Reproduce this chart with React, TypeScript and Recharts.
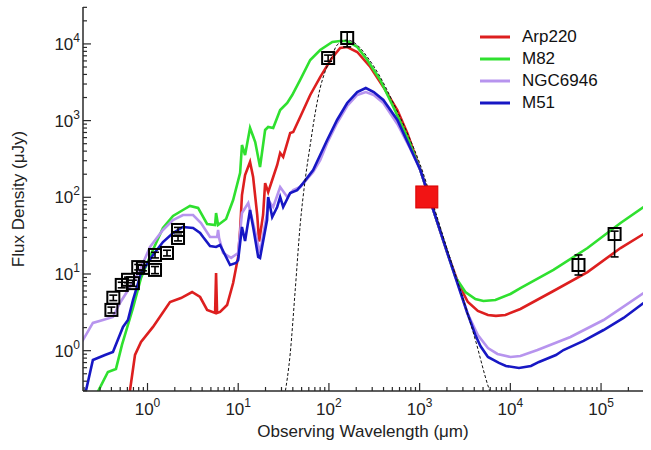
import React from 'react';
import { ComposedChart, Line, Scatter, ErrorBar, XAxis, YAxis, Legend } from 'recharts';

type Pt = [number, number];

const FONT = '"Liberation Sans", Arial, Helvetica, sans-serif';

// wavelength (um), flux density (uJy)
const arp220: Pt[] = [
  [0.62, 0.23], [0.728, 0.879], [0.848, 1.3], [1.15, 2.04], [1.77, 4.31], [2.34, 4.86], [3.1, 5.82],
  [3.8, 5.01], [4.54, 3.4], [5.56, 3.1], [5.7, 10.3], [5.85, 3.1], [6.31, 3.2], [7.54, 3.94], [8.79, 7.63],
  [9.98, 16.7], [10.5, 37.5], [11.0, 107], [11.9, 195], [13.5, 289], [14.6, 184], [16.2, 58.8], [17.0, 26.5],
  [18.8, 58.8], [19.8, 153], [21.4, 117], [23.7, 168], [26.9, 264], [29.0, 378], [31.3, 336], [37.4, 690],
  [40.4, 711], [48.2, 1114], [62.2, 2158], [80.1, 3700], [106, 6350], [133, 8850], [159, 9120], [205, 7850],
  [286, 5010], [398, 2750], [568, 1376], [731, 690], [1018, 227], [1416, 68.3], [2023, 18.8], [2710, 7.19],
  [3404, 4.31], [4385, 3.3], [5662, 2.92], [6934, 2.84], [8830, 2.92], [12910, 3.5], [29870, 6.0],
  [70900, 10.6], [164000, 21.8], [294000, 33.2],
];

const m82: Pt[] = [
  [0.27, 0.26], [0.366, 0.527], [0.449, 0.578], [0.523, 1.19], [0.692, 3.6], [0.848, 8.87], [1.12, 19.4],
  [1.48, 39.8], [1.91, 57.1], [2.46, 68.3], [2.94, 77.1], [3.61, 72.6], [4.54, 44.9], [5.56, 43.6],
  [5.7, 62.4], [6.0, 43.6], [7.35, 52.1], [8.79, 92.2], [10.5, 208], [11.0, 481], [11.9, 356], [13.5, 802],
  [15.4, 526], [17.4, 248], [19.8, 755], [21.4, 826], [24.3, 802], [29.0, 1376], [34.7, 1698], [39.4, 2158],
  [48.2, 3388], [62.2, 6170], [80.1, 8330], [109, 10590], [133, 10910], [159, 10910], [205, 9120],
  [265, 6170], [368, 3388], [513, 1504], [731, 611], [1018, 227], [1416, 68.3], [2023, 18.8], [2477, 9.14],
  [3192, 5.82], [4117, 4.72], [5047, 4.45], [6842, 4.58], [10020, 5.49], [12910, 6.56], [29870, 11.3],
  [70900, 21.8], [164000, 46.2], [294000, 74.8],
];

const ngc6946: Pt[] = [
  [0.189, 1.3], [0.25, 2.3], [0.323, 2.51], [0.416, 2.75], [0.497, 4.19], [0.641, 6.77], [0.826, 11.3],
  [1.066, 22.5], [1.48, 37.5], [1.91, 50.6], [2.46, 58.8], [3.18, 58.8], [3.89, 46.2], [4.89, 30.3],
  [5.85, 30.3], [6.0, 37.5], [6.15, 29.5], [6.81, 18.8], [8.35, 16.2], [9.98, 18.8], [11.0, 62.4],
  [12.9, 84.3], [14.6, 46.2], [17.4, 18.8], [20.8, 62.4], [21.4, 92.2], [24.3, 74.8], [29.0, 136],
  [34.7, 101], [40.4, 124], [48.2, 136], [67.0, 214], [80.1, 306], [95.7, 510], [123, 931], [159, 1552],
  [205, 2158], [255, 2360], [312, 2158], [398, 1698], [568, 904], [780, 440], [1018, 227], [1416, 68.3],
  [2023, 18.8], [3357, 3.1], [4385, 1.6], [5662, 1.08], [7210, 0.906], [10020, 0.828], [12910, 0.853],
  [19910, 1.02], [45960, 1.51], [106600, 2.51], [294000, 5.65],
];

const m51: Pt[] = [
  [0.199, 0.228], [0.25, 0.757], [0.34, 0.879], [0.416, 0.962], [0.537, 2.04], [0.609, 2.51], [0.692, 4.58],
  [0.848, 10.3], [1.15, 17.7], [1.48, 26.1], [1.91, 34.3], [2.46, 41.0], [3.18, 39.8], [3.8, 34.3],
  [4.1, 30.3], [4.89, 23.2], [5.7, 22.5], [6.31, 23.9], [8.13, 13.1], [9.46, 13.9], [9.98, 15.2],
  [11.0, 41.0], [11.9, 26.9], [13.5, 68.3], [14.6, 41.0], [16.6, 16.7], [17.4, 16.2], [20.8, 50.6],
  [21.4, 101], [23.7, 55.3], [26.9, 74.8], [29.0, 101], [31.3, 74.8], [37.4, 114], [44.7, 124], [52.0, 153],
  [67.0, 227], [80.1, 356], [95.7, 558], [123, 1019], [159, 1698], [205, 2360], [255, 2661], [312, 2360],
  [398, 1857], [568, 1019], [780, 453], [1018, 227], [1416, 68.3], [2023, 18.8], [3357, 3.1], [4117, 1.6],
  [4677, 1.15], [5662, 0.828], [7480, 0.692], [8940, 0.632], [12440, 0.596], [16870, 0.632], [20690, 0.713],
  [31820, 0.879], [38540, 1.02], [64140, 1.34], [106600, 1.86], [177000, 2.67], [294000, 4.19],
];

// modified blackbody fit (dashed)
const greybody: Pt[] = [
  [32.5, 0.26], [37.4, 0.906], [42.5, 6.18], [48.2, 43.6], [54.7, 168], [62.2, 481], [70.6, 1256],
  [80.1, 2661], [91.0, 4395], [106, 6560], [123, 9680], [159, 11250], [205, 9680], [265, 6760], [368, 3700],
  [513, 1698], [731, 690], [1018, 264], [1416, 79.4], [2023, 20.6], [2813, 6.18], [4117, 1.38],
  [5730, 0.336], [6185, 0.26],
];

// photometry: [wavelength, flux, error (or [low, high])]
const photometry: [number, number, number | [number, number]][] = [
  [0.4, 3.4, 0.3], [0.42, 4.9, 0.4], [0.52, 7.2, 0.6], [0.61, 8.4, 0.7], [0.69, 7.6, 0.7],
  [0.79, 12.3, 1.0], [0.89, 12.0, 1.0], [1.21, 11.3, 1.2], [1.21, 17.7, 1.5], [1.64, 18.8, 1.6],
  [2.17, 37.5, 3], [2.17, 29.5, 2.5],
  [98, 6550, 600], [159, 11940, [2800, 2400]],
  [56400, 13.1, [3.4, 4.6]], [141000, 33.2, [16.5, 3]],
];

const mmPoint: Pt[] = [[1200, 101]];

const seriesNames = ['Arp220', 'M82', 'NGC6946', 'M51'];
const seriesColors = ['#dd1f1f', '#2fe02f', '#b794ee', '#1717c4'];
const seriesData = [arp220, m82, ngc6946, m51];

const X_DOMAIN = [0.1945, 2.9e5];
const Y_DOMAIN = [0.298, 3.03e4];

const logTicks = (lo: number, hi: number) => {
  const out: number[] = [];
  for (let e = -1; e <= 5; e++) {
    for (let m = 1; m <= 9; m++) {
      const v = +(m * Math.pow(10, e)).toPrecision(3);
      if (v >= lo && v <= hi) out.push(v);
    }
  }
  return out;
};
const xTicks = logTicks(X_DOMAIN[0], X_DOMAIN[1]);
const yTicks = logTicks(Y_DOMAIN[0], Y_DOMAIN[1]);

const rows = (pts: Pt[]) => pts.map(([x, y]) => ({ x, y }));
const expOf = (v: number) => Math.round(Math.log10(v));
const isMajor = (v: number) => Math.abs(Math.log10(v) - expOf(v)) < 1e-6;

const AXIS = '#2a2a2a';

function BottomTick({ x, y, payload }: any) {
  const v = payload.value;
  const major = isMajor(v);
  return (
    <g>
      <line x1={x} x2={x} y1={y} y2={y - (major ? 8 : 4)} stroke={AXIS} strokeWidth={1.2} />
      {major && (
        <text x={x} y={y + 24} textAnchor="middle" fontSize={17} fill="#222" fontFamily={FONT}>
          10<tspan dy={-8} fontSize={12}>{expOf(v)}</tspan>
        </text>
      )}
    </g>
  );
}

function LeftTick({ x, y, payload }: any) {
  const v = payload.value;
  const major = isMajor(v);
  return (
    <g>
      <line x1={x} x2={x + (major ? 8 : 4)} y1={y} y2={y} stroke={AXIS} strokeWidth={1.2} />
      {major && (
        <text x={x - 3} y={y + 6} textAnchor="end" fontSize={17} fill="#222" fontFamily={FONT}>
          10<tspan dy={-8} fontSize={12}>{expOf(v)}</tspan>
        </text>
      )}
    </g>
  );
}

function TopTick({ x, y, payload }: any) {
  const major = isMajor(payload.value);
  return <line x1={x} x2={x} y1={y} y2={y + (major ? 8 : 4)} stroke={AXIS} strokeWidth={1.2} />;
}

function RightTick({ x, y, payload }: any) {
  const major = isMajor(payload.value);
  return <line x1={x} x2={x - (major ? 8 : 4)} y1={y} y2={y} stroke={AXIS} strokeWidth={1.2} />;
}

function OpenSquare({ cx, cy }: any) {
  return <rect x={cx - 6} y={cy - 6} width={12} height={12} fill="none" stroke="#000" strokeWidth={2} />;
}

function RedSquare({ cx, cy }: any) {
  return <rect x={cx - 11} y={cy - 11} width={22} height={22} fill="#f21414" stroke="#d80000" strokeWidth={1} />;
}

function LegendBox({ payload }: any) {
  const items = (payload ?? [])
    .filter((e: any) => seriesNames.includes(e.value))
    .sort((a: any, b: any) => seriesNames.indexOf(a.value) - seriesNames.indexOf(b.value));
  return (
    <div style={{ fontFamily: FONT, fontSize: 17, color: '#111' }}>
      {items.map((e: any) => (
        <div key={e.value} style={{ display: 'flex', alignItems: 'center', height: 22 }}>
          <svg width={30} height={4} style={{ marginRight: 12 }}>
            <line x1={0} x2={30} y1={2} y2={2} stroke={e.color} strokeWidth={3} />
          </svg>
          <span>{e.value}</span>
        </div>
      ))}
    </div>
  );
}

export default function App() {
  const points = photometry.map(([x, y, err]) => ({ x, y, err }));
  return (
    <div style={{ position: 'absolute', left: 0, top: 0, width: 651, height: 450, background: '#fff', fontFamily: FONT }}>
      <ComposedChart width={651} height={450} margin={{ top: 7, right: 8, bottom: 8, left: 8 }}>
        <XAxis
          xAxisId="b"
          dataKey="x"
          type="number"
          scale="log"
          domain={X_DOMAIN}
          allowDataOverflow
          ticks={xTicks}
          interval={0}
          tickSize={0}
          tickMargin={0}
          tick={<BottomTick />}
          height={51}
          axisLine={{ stroke: AXIS, strokeWidth: 1.5 }}
          label={{
            content: ({ viewBox }: any) => (
              <text x={viewBox.x + viewBox.width / 2} y={viewBox.y + 46} textAnchor="middle" fontSize={17} fill="#222" fontFamily={FONT}>
                Observing Wavelength (μm)
              </text>
            ),
          }}
        />
        <XAxis
          xAxisId="t"
          orientation="top"
          type="number"
          scale="log"
          domain={X_DOMAIN}
          allowDataOverflow
          ticks={xTicks}
          interval={0}
          tickSize={0}
          tickMargin={0}
          tick={<TopTick />}
          height={0}
          axisLine={{ stroke: AXIS, strokeWidth: 1.5 }}
        />
        <YAxis
          yAxisId="l"
          dataKey="y"
          type="number"
          scale="log"
          domain={Y_DOMAIN}
          allowDataOverflow
          ticks={yTicks}
          interval={0}
          tickSize={0}
          tickMargin={0}
          tick={<LeftTick />}
          width={75}
          axisLine={{ stroke: AXIS, strokeWidth: 1.5 }}
          label={{
            content: ({ viewBox }: any) => {
              const cx = viewBox.x + 16;
              const cy = viewBox.y + viewBox.height / 2;
              return (
                <text x={cx} y={cy} transform={`rotate(-90, ${cx}, ${cy})`} textAnchor="middle" fontSize={17} fill="#222" fontFamily={FONT}>
                  Flux Density (μJy)
                </text>
              );
            },
          }}
        />
        <YAxis
          yAxisId="r"
          orientation="right"
          type="number"
          scale="log"
          domain={Y_DOMAIN}
          allowDataOverflow
          ticks={yTicks}
          interval={0}
          tickSize={0}
          tickMargin={0}
          tick={<RightTick />}
          width={0}
          axisLine={{ stroke: AXIS, strokeWidth: 1.5 }}
        />
        <Legend
          layout="horizontal"
          verticalAlign="middle"
          align="center"
          wrapperStyle={{ top: 26, left: 480, width: 160 }}
          content={<LegendBox />}
        />
        {seriesData.map((d, i) => (
          <Line
            key={seriesNames[i]}
            xAxisId="b"
            yAxisId="l"
            data={rows(d)}
            dataKey="y"
            name={seriesNames[i]}
            type="linear"
            stroke={seriesColors[i]}
            strokeWidth={2.6}
            dot={false}
            activeDot={false}
            isAnimationActive={false}
          />
        ))}
        <Line
          xAxisId="b"
          yAxisId="l"
          data={rows(greybody)}
          dataKey="y"
          name="greybody"
          type="monotone"
          stroke="#111"
          strokeWidth={1}
          strokeDasharray="3 2"
          dot={false}
          activeDot={false}
          legendType="none"
          isAnimationActive={false}
        />
        <Scatter
          xAxisId="b"
          yAxisId="l"
          data={points}
          dataKey="y"
          name="photometry"
          shape={<OpenSquare />}
          legendType="none"
          isAnimationActive={false}
        >
          <ErrorBar dataKey="err" direction="y" width={4} stroke="#000" strokeWidth={1.6} isAnimationActive={false} />
        </Scatter>
        <Scatter
          xAxisId="b"
          yAxisId="l"
          data={rows(mmPoint)}
          dataKey="y"
          name="mm"
          shape={<RedSquare />}
          legendType="none"
          isAnimationActive={false}
        />
      </ComposedChart>
    </div>
  );
}
